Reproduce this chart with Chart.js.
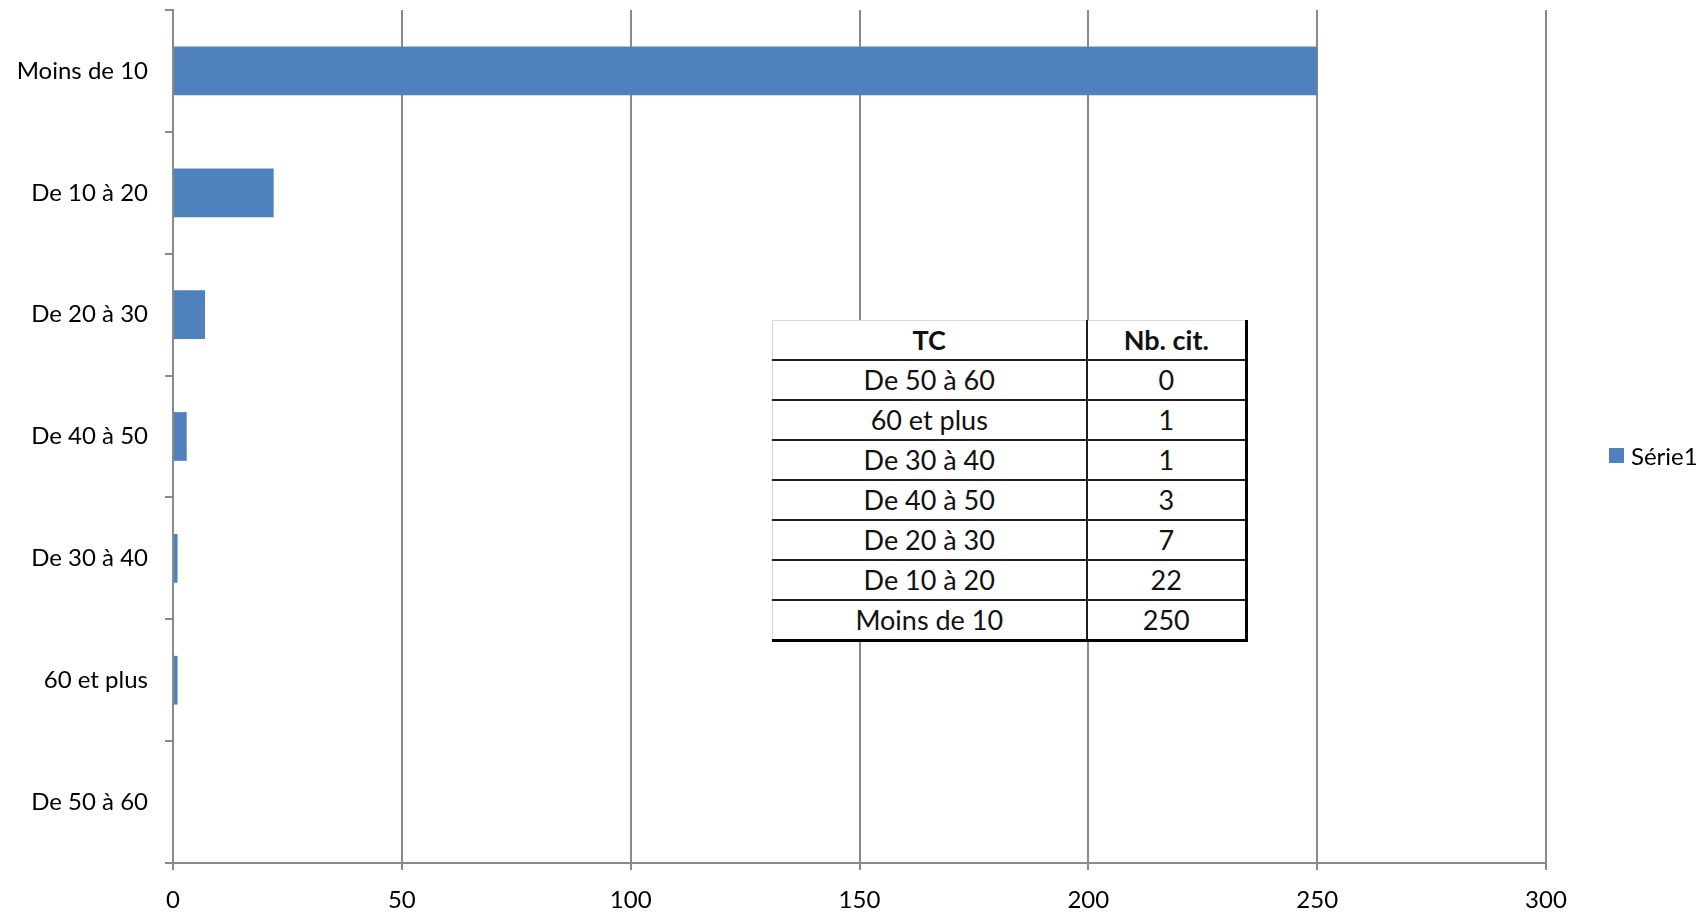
<!DOCTYPE html>
<html lang="fr">
<head>
<meta charset="utf-8">
<title>Nb. cit. par TC</title>
<script src="https://cdn.jsdelivr.net/npm/chart.js@4.4.1/dist/chart.umd.min.js"></script>
<style>
  html, body { margin: 0; padding: 0; background: #ffffff; }
  #wrap { position: relative; width: 1708px; height: 912px; }
  #chart { position: absolute; left: 0; top: 0; }
  #legend {
    position: absolute; left: 1609px; top: 440px; height: 30px;
    display: flex; align-items: center;
    font-family: Lato, "Open Sans", sans-serif; font-size: 24px; color: #000;
  }
  #legend .swatch { width: 15px; height: 15px; margin-right: 7px; }
  #tc-table {
    position: absolute; left: 772px; top: 320px;
    border-collapse: collapse; background: #ffffff;
    font-family: Lato, "Open Sans", sans-serif; font-size: 27px; color: #111;
    table-layout: fixed;
  }
  #tc-table th, #tc-table td {
    text-align: center; padding: 0; height: 38px; line-height: 36px;
    border-top: 2px solid #1e1e1e; border-bottom: 2px solid #1e1e1e;
    border-left: 2px solid #1e1e1e; border-right: 3px solid #000;
  }
  #tc-table th { font-weight: 700; border-top: 1px solid #dcdcdc; }
  #tc-table th:first-child, #tc-table td:first-child { border-left: 1px solid #d6d6d6; border-right: 2px solid #1e1e1e; }
  #tc-table tr:last-child td { border-bottom: 3px solid #000; }
</style>
</head>
<body>
<div id="wrap">
  <canvas id="chart" width="1708" height="912"></canvas>
  <table id="tc-table"></table>
  <div id="legend"></div>
</div>
<script>
// Tranches (TC), listed from the bottom bar upward
const categories = ['De 50 à 60', '60 et plus', 'De 30 à 40', 'De 40 à 50', 'De 20 à 30', 'De 10 à 20', 'Moins de 10'];
// Nombre de citations per tranche
const citations = [0, 1, 1, 3, 7, 22, 250];
const seriesName = 'Série1';
const tableHeaders = ['TC', 'Nb. cit.'];
const xMin = 0;
const xMax = 300;
const xStep = 50;

const barColor = '#4F81BD';
const axisGrey = '#8a8a8a';
const labelFont = { family: 'Lato, "Open Sans", sans-serif', size: 24 };

const chart = new Chart(document.getElementById('chart'), {
  type: 'bar',
  data: {
    labels: categories,
    datasets: [{
      label: seriesName,
      data: citations,
      backgroundColor: barColor,
      borderWidth: 0,
      barPercentage: 0.4,
      categoryPercentage: 1.0
    }]
  },
  options: {
    indexAxis: 'y',
    responsive: false,
    animation: false,
    layout: { padding: { left: 0, top: 10, right: 162, bottom: 0 } },
    plugins: {
      legend: { display: false },
      tooltip: { enabled: false }
    },
    scales: {
      x: {
        min: xMin,
        max: xMax,
        ticks: { stepSize: xStep, color: '#000', font: labelFont, padding: 16 },
        grid: { color: axisGrey, lineWidth: 2, tickLength: 7, drawTicks: true },
        border: { color: axisGrey, width: 2 },
        afterFit: (scale) => { scale.height = 49; }
      },
      y: {
        reverse: true,
        offset: true,
        ticks: { color: '#000', font: labelFont, padding: 17 },
        grid: { offset: true, drawOnChartArea: false, color: axisGrey, lineWidth: 2, tickLength: 8 },
        border: { color: axisGrey, width: 2 },
        afterFit: (scale) => {
          scale.width = 173;
          scale.paddingTop = 0;
          scale.paddingBottom = 0;
        }
      }
    }
  }
});

// Data table: header row then one row per tranche, smallest count first
const table = document.getElementById('tc-table');
const colgroup = document.createElement('colgroup');
[314, 160].forEach(w => {
  const c = document.createElement('col');
  c.style.width = w + 'px';
  colgroup.appendChild(c);
});
table.appendChild(colgroup);
const head = table.insertRow();
tableHeaders.forEach(h => {
  const th = document.createElement('th');
  th.textContent = h;
  head.appendChild(th);
});
categories.forEach((cat, i) => {
  const row = table.insertRow();
  row.insertCell().textContent = cat;
  row.insertCell().textContent = citations[i];
});

// Legend built from the dataset
const legend = document.getElementById('legend');
chart.data.datasets.forEach(ds => {
  const sw = document.createElement('span');
  sw.className = 'swatch';
  sw.style.background = ds.backgroundColor;
  const txt = document.createElement('span');
  txt.textContent = ds.label;
  legend.appendChild(sw);
  legend.appendChild(txt);
});
</script>
</body>
</html>
